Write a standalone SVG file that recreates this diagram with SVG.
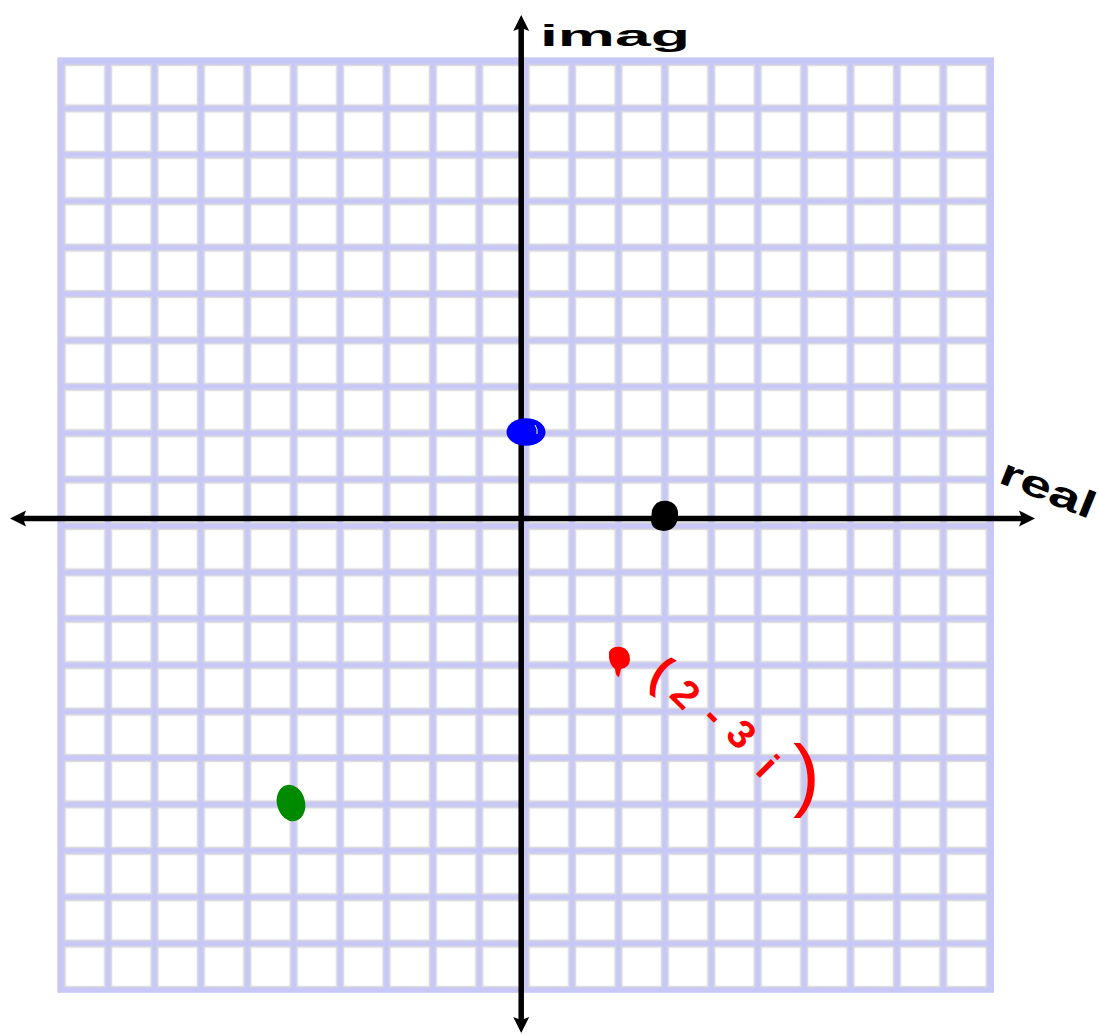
<svg xmlns="http://www.w3.org/2000/svg" width="1099" height="1034" viewBox="0 0 1099 1034">
  <style>
    .axis { stroke: #000; stroke-width: 5.5; fill: none; }
    .hand { font-family: "Liberation Sans", Arial, sans-serif; font-weight: bold; }
  </style>
  <defs>
    <pattern id="cell" patternUnits="userSpaceOnUse" x="61.7" y="62" width="46.4" height="46.4">
      <rect x="0" y="0" width="46.4" height="46.4" fill="#c8c8f6"/>
      <rect x="3.4" y="3.4" width="39.6" height="39.6" fill="#ffffff" stroke="#dcdcdc" stroke-width="1.6"/>
    </pattern>
    <marker id="arrow" markerUnits="userSpaceOnUse" viewBox="0 -9 17 18" refX="8" refY="0" markerWidth="17" markerHeight="18" orient="auto-start-reverse">
      <path d="M0,-8 L16,0 L0,8 L3,0 Z" fill="#000"/>
    </marker>
  </defs>
  <rect width="1099" height="1034" fill="#ffffff"/>

  <g id="grid">
    <rect x="57.3" y="57.3" width="936.7" height="935.5" fill="#c8c8f6"/>
    <rect x="61.7" y="62" width="928" height="928" fill="url(#cell)"/>
  </g>

  <g id="connectors">
    <line class="axis" x1="521.2" y1="1025" x2="521.2" y2="23" marker-end="url(#arrow)" marker-start="url(#arrow)"/>
    <line class="axis" x1="18" y1="518.5" x2="1027" y2="518.5" marker-end="url(#arrow)" marker-start="url(#arrow)"/>
  </g>

  <g id="point-blue">
    <ellipse cx="526" cy="432" rx="19.5" ry="13.8" fill="#0000ff"/>
    <path d="M535,425 Q538,429 537,434" stroke="#ffffff" stroke-width="1" fill="none"/>
  </g>
  <g id="point-black">
    <path d="M652,510 Q656,499 668,501 Q679,504 678,516 Q677,530 664,531 Q651,530 651,520 Z" fill="#000"/>
  </g>
  <g id="point-red">
    <path d="M609,652 Q612,646 621,647 Q630,649 630,660 Q629,668 621,669 L619,677 Q616,677 615,669 Q608,664 609,652 Z" fill="#ff0000"/>
  </g>
  <g id="point-green">
    <ellipse cx="291" cy="803" rx="14" ry="18.5" transform="rotate(-15 291 803)" fill="#008a00"/>
  </g>

  <g id="labels">
    <text class="hand" x="540" y="46" font-size="30" textLength="150" lengthAdjust="spacingAndGlyphs" fill="#000">imag</text>
    <text class="hand" x="997" y="482" font-size="38" textLength="100" lengthAdjust="spacingAndGlyphs" fill="#000" transform="rotate(22 997 482)">real</text>
    <text class="hand" fill="#ff0000"><tspan x="647" y="682" font-size="46" rotate="30">(</tspan><tspan x="668" y="696" font-size="40" rotate="45">2</tspan><tspan x="700" y="720" font-size="40" rotate="45">-</tspan><tspan x="724" y="736" font-size="40" rotate="45">3</tspan><tspan x="754" y="772" font-size="40" rotate="45">i</tspan><tspan x="793" y="801" font-size="80" font-weight="normal" rotate="0">)</tspan></text>
  </g>
</svg>
